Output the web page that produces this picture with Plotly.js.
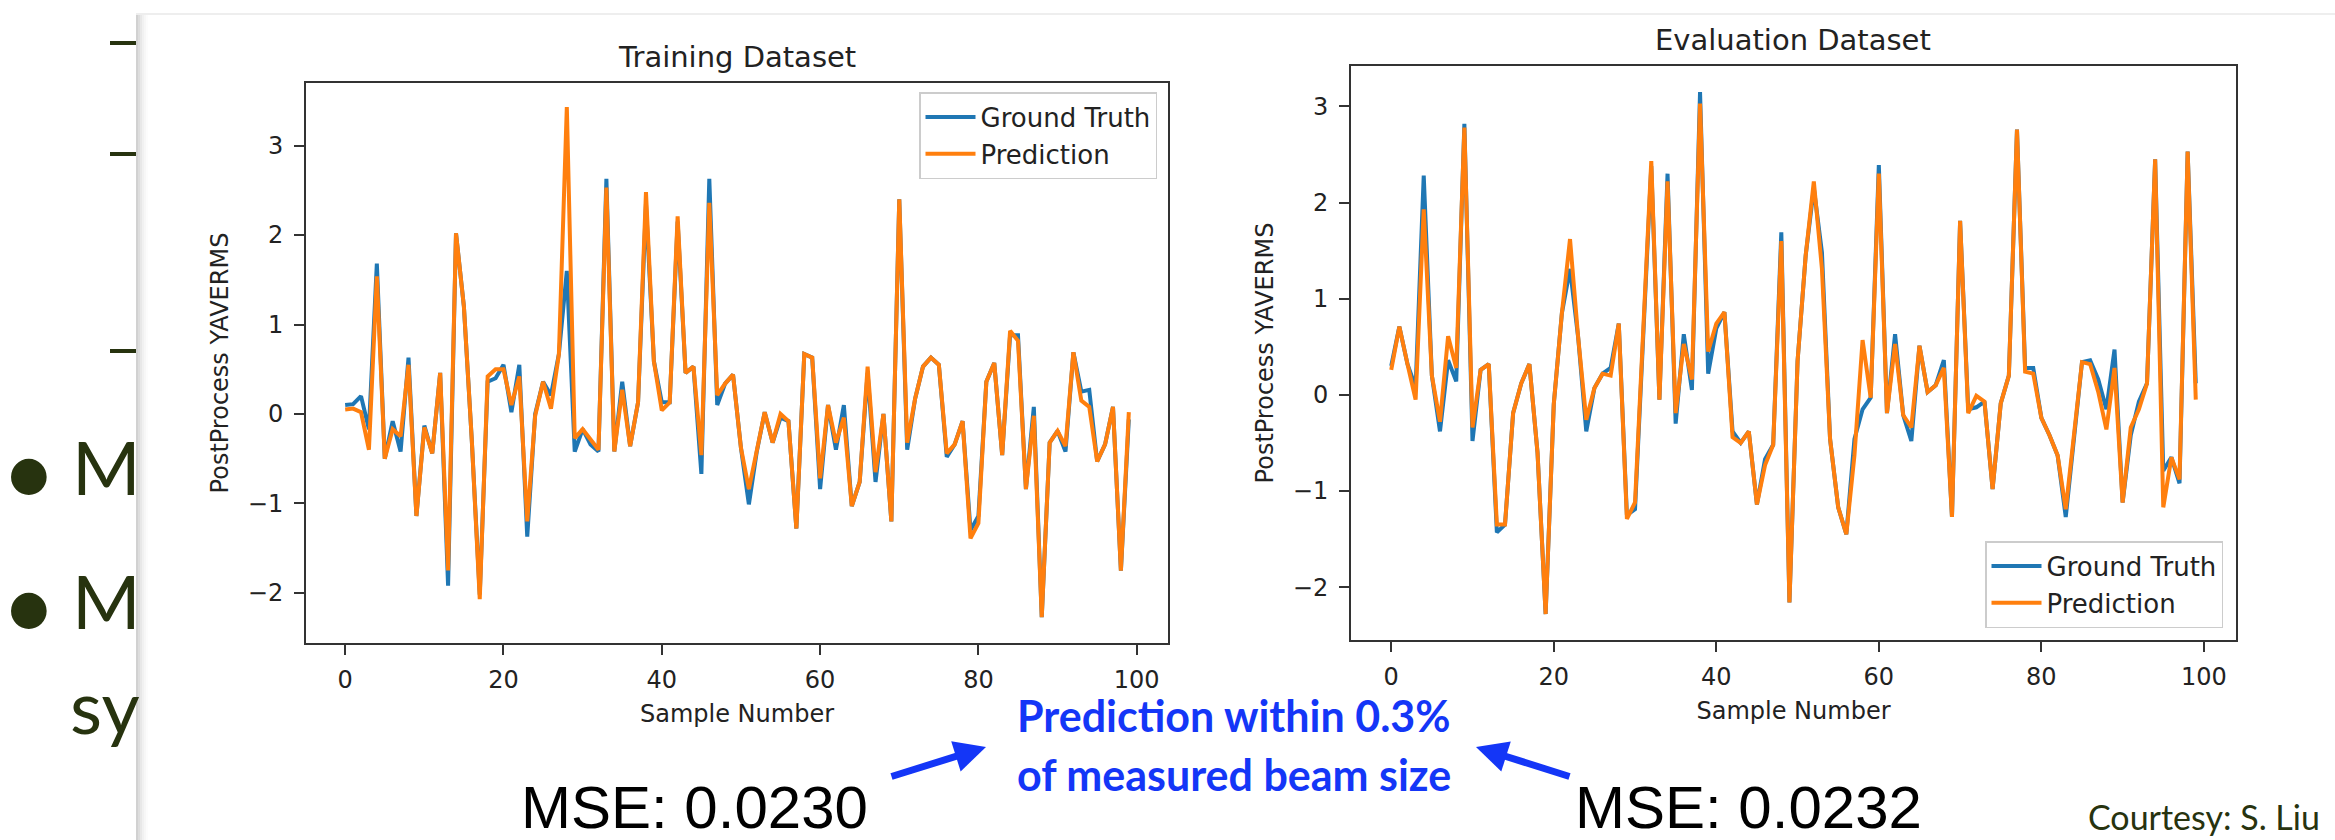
<!DOCTYPE html>
<html>
<head>
<meta charset="utf-8">
<script src="https://cdn.plot.ly/plotly-3.0.1.min.js"></script>
<style>
html,body{margin:0;padding:0;background:#ffffff;}
#chart{width:2335px;height:840px;}
</style>
</head>
<body>
<div id="chart"></div>
<script>
// ---------------- DATA ----------------
const sampleNumber = [0,1,2,3,4,5,6,7,8,9,10,11,12,13,14,15,16,17,18,19,20,21,22,23,24,25,26,27,28,29,30,31,32,33,34,35,36,37,38,39,40,41,42,43,44,45,46,47,48,49,50,51,52,53,54,55,56,57,58,59,60,61,62,63,64,65,66,67,68,69,70,71,72,73,74,75,76,77,78,79,80,81,82,83,84,85,86,87,88,89,90,91,92,93,94,95,96,97,98,99];

const trainTruth = [0.10,0.11,0.20,-0.17,1.68,-0.50,-0.08,-0.42,0.63,-1.14,
  -0.13,-0.44,0.46,-1.92,2.02,1.20,-0.30,-2.02,0.36,0.40,
  0.55,0.02,0.55,-1.37,0.00,0.36,0.21,0.67,1.60,-0.42,
  -0.17,-0.34,-0.42,2.63,-0.42,0.36,-0.36,0.13,2.35,0.59,
  0.13,0.13,2.15,0.46,0.53,-0.67,2.63,0.10,0.34,0.44,
  -0.38,-1.01,-0.42,0.02,-0.32,-0.04,-0.08,-1.28,0.67,0.63,
  -0.84,0.10,-0.40,0.10,-1.03,-0.76,0.46,-0.76,0.00,-1.20,
  2.40,-0.40,0.17,0.53,0.63,0.55,-0.48,-0.34,-0.08,-1.30,
  -1.14,0.36,0.57,-0.46,0.88,0.88,-0.84,0.08,-2.27,-0.32,
  -0.19,-0.42,0.69,0.25,0.27,-0.53,-0.34,0.08,-1.75,-0.06];

const trainPred = [0.05,0.06,0.02,-0.40,1.54,-0.50,-0.17,-0.25,0.55,-1.14,
  -0.15,-0.44,0.46,-1.75,2.02,1.20,-0.30,-2.07,0.42,0.50,
  0.50,0.10,0.42,-1.20,-0.02,0.36,0.06,0.67,3.43,-0.27,
  -0.17,-0.28,-0.40,2.53,-0.42,0.27,-0.36,0.13,2.48,0.59,
  0.04,0.13,2.21,0.46,0.53,-0.46,2.36,0.21,0.34,0.44,
  -0.38,-0.84,-0.42,0.02,-0.32,0.00,-0.08,-1.28,0.67,0.63,
  -0.72,0.10,-0.32,-0.04,-1.03,-0.76,0.53,-0.65,0.00,-1.20,
  2.40,-0.32,0.17,0.53,0.63,0.55,-0.44,-0.34,-0.08,-1.39,
  -1.22,0.36,0.57,-0.46,0.93,0.82,-0.84,-0.02,-2.27,-0.32,
  -0.19,-0.36,0.69,0.15,0.08,-0.53,-0.34,0.08,-1.75,0.02];

const evalTruth = [0.30,0.71,0.32,0.08,2.28,0.20,-0.38,0.36,0.14,2.82,
  -0.48,0.26,0.32,-1.43,-1.35,-0.19,0.12,0.32,-0.60,-2.28,
  -0.10,0.85,1.31,0.60,-0.38,0.07,0.22,0.28,0.74,-1.25,
  -1.19,0.60,2.38,-0.05,2.30,-0.30,0.63,0.05,3.15,0.22,
  0.69,0.86,-0.38,-0.50,-0.38,-1.14,-0.67,-0.52,1.69,-2.16,
  0.35,1.45,2.15,1.48,-0.46,-1.17,-1.45,-0.46,-0.15,-0.03,
  2.39,-0.19,0.63,-0.21,-0.48,0.51,0.03,0.10,0.36,-1.27,
  1.81,-0.15,-0.13,-0.07,-0.98,-0.09,0.20,2.76,0.28,0.28,
  -0.24,-0.42,-0.63,-1.27,-0.42,0.34,0.36,0.16,-0.15,0.47,
  -1.12,-0.42,-0.07,0.12,2.45,-0.79,-0.65,-0.92,2.53,0.12];

const evalPred = [0.26,0.71,0.32,-0.05,1.93,0.20,-0.28,0.61,0.28,2.78,
  -0.34,0.26,0.32,-1.35,-1.35,-0.19,0.12,0.32,-0.60,-2.28,
  -0.10,0.85,1.62,0.60,-0.26,0.07,0.22,0.20,0.74,-1.29,
  -1.12,0.60,2.43,-0.05,2.22,-0.19,0.53,0.16,3.03,0.45,
  0.74,0.86,-0.44,-0.50,-0.38,-1.14,-0.73,-0.52,1.60,-2.16,
  0.35,1.45,2.22,1.31,-0.46,-1.17,-1.45,-0.63,0.57,-0.03,
  2.30,-0.19,0.53,-0.21,-0.34,0.51,0.03,0.10,0.28,-1.27,
  1.81,-0.19,-0.01,-0.07,-0.98,-0.09,0.20,2.76,0.24,0.22,
  -0.24,-0.42,-0.63,-1.19,-0.42,0.34,0.32,0.03,-0.36,0.28,
  -1.12,-0.34,-0.15,0.12,2.45,-1.17,-0.65,-0.88,2.53,-0.05];

const seriesNames = ["Ground Truth", "Prediction"];
const chartTitles = ["Training Dataset", "Evaluation Dataset"];
const xLabel = "Sample Number";
const yLabel = "PostProcess YAVERMS";
const mseLabels = ["MSE: 0.0230", "MSE: 0.0232"];
const noteLines = ["Prediction within 0.3%", "of measured beam size"];
const credit = "Courtesy: S. Liu";

// ---------------- LAYOUT HELPERS ----------------
const W = 2335, H = 840;
const px = x => x / W;
const py = y => 1 - y / H;

const BLUE = "#1f77b4", ORANGE = "#ff7f0e";
const CF = "DejaVu Sans";
const TXT = "#222222";
const SLIDE = "#27330f";
const NOTE = "#1436f7";

const lw = 4;
const traces = [
  {x: sampleNumber, y: trainTruth, name: seriesNames[0], type: "scatter", mode: "lines",
   line: {color: BLUE, width: lw}, xaxis: "x", yaxis: "y", legend: "legend"},
  {x: sampleNumber, y: trainPred, name: seriesNames[1], type: "scatter", mode: "lines",
   line: {color: ORANGE, width: lw}, xaxis: "x", yaxis: "y", legend: "legend"},
  {x: sampleNumber, y: evalTruth, name: seriesNames[0], type: "scatter", mode: "lines",
   line: {color: BLUE, width: lw}, xaxis: "x2", yaxis: "y2", legend: "legend2"},
  {x: sampleNumber, y: evalPred, name: seriesNames[1], type: "scatter", mode: "lines",
   line: {color: ORANGE, width: lw}, xaxis: "x2", yaxis: "y2", legend: "legend2"}
];

function xAx(domain, anchor) {
  return {
    domain: domain, anchor: anchor, range: [-4.95, 103.95], tick0: 0, dtick: 20,
    ticks: "outside", ticklen: 10, tickwidth: 2, tickcolor: "#333",
    showline: true, mirror: true, linecolor: "#333", linewidth: 2,
    showgrid: false, zeroline: false, ticklabelstandoff: 4,
    tickfont: {family: CF, size: 24, color: TXT},
    title: {text: xLabel, font: {family: CF, size: 24, color: TXT}, standoff: 12}
  };
}
function yAx(domain, anchor, range) {
  return {
    domain: domain, anchor: anchor, range: range, tick0: 0, dtick: 1,
    ticks: "outside", ticklen: 10, tickwidth: 2, tickcolor: "#333",
    showline: true, mirror: true, linecolor: "#333", linewidth: 2,
    showgrid: false, zeroline: false, ticklabelstandoff: 6,
    tickfont: {family: CF, size: 24, color: TXT},
    title: {text: yLabel, font: {family: CF, size: 24, color: TXT}, standoff: 12}
  };
}

const legendBase = {
  bgcolor: "rgba(255,255,255,0.85)", bordercolor: "#cccccc", borderwidth: 1.5,
  font: {family: CF, size: 26, color: TXT}, itemwidth: 50
};

const shapes = [];
// slide dashes on the left strip
[43, 154, 351].forEach(y => shapes.push({type: "line", xref: "paper", yref: "paper",
  x0: px(110), x1: px(136), y0: py(y), y1: py(y), line: {color: SLIDE, width: 4}}));
// panel shadow
[0.30, 0.22, 0.15, 0.09, 0.05, 0.02].forEach((op, k) => shapes.push({type: "rect", xref: "paper", yref: "paper",
  x0: px(136 + 2 * k), x1: px(138 + 2 * k), y0: 0, y1: py(14),
  fillcolor: "#666", opacity: op, line: {width: 0}, layer: "below"}));
shapes.push({type: "line", xref: "paper", yref: "paper", x0: px(136), x1: 1, y0: py(14), y1: py(14),
  line: {color: "#eeeeee", width: 2}, layer: "below"});

const annotations = [
  // subplot titles
  {text: chartTitles[0], xref: "paper", yref: "paper", x: px(737), y: py(57), xanchor: "center", yanchor: "middle",
   showarrow: false, font: {family: CF, size: 29, color: TXT}},
  {text: chartTitles[1], xref: "paper", yref: "paper", x: px(1793), y: py(40), xanchor: "center", yanchor: "middle",
   showarrow: false, font: {family: CF, size: 29, color: TXT}},
  // slide bullets (partly hidden behind the figure panel)
  {text: "•", xref: "paper", yref: "paper", x: px(29), y: py(468), xanchor: "center", yanchor: "middle",
   showarrow: false, font: {family: "Lato", size: 96, color: SLIDE}},
  {text: "M", xref: "paper", yref: "paper", x: px(70), y: py(466), xanchor: "left", yanchor: "middle",
   showarrow: false, font: {family: "Lato", size: 74, color: SLIDE}},
  {text: "•", xref: "paper", yref: "paper", x: px(29), y: py(602), xanchor: "center", yanchor: "middle",
   showarrow: false, font: {family: "Lato", size: 96, color: SLIDE}},
  {text: "M", xref: "paper", yref: "paper", x: px(70), y: py(600), xanchor: "left", yanchor: "middle",
   showarrow: false, font: {family: "Lato", size: 74, color: SLIDE}},
  {text: "sy", xref: "paper", yref: "paper", x: px(68), y: py(705), xanchor: "left", yanchor: "middle",
   showarrow: false, font: {family: "Lato", size: 74, color: SLIDE}},
  // MSE labels
  {text: mseLabels[0], xref: "paper", yref: "paper", x: px(694), y: py(807), xanchor: "center", yanchor: "middle",
   showarrow: false, font: {family: "Liberation Sans", size: 60, color: "#000000"}},
  {text: mseLabels[1], xref: "paper", yref: "paper", x: px(1748), y: py(807), xanchor: "center", yanchor: "middle",
   showarrow: false, font: {family: "Liberation Sans", size: 60, color: "#000000"}},
  // blue note
  {text: "<b>" + noteLines[0] + "</b>", xref: "paper", yref: "paper", x: px(1234), y: py(715), xanchor: "center", yanchor: "middle",
   showarrow: false, font: {family: "Lato", size: 43, color: NOTE}},
  {text: "<b>" + noteLines[1] + "</b>", xref: "paper", yref: "paper", x: px(1234), y: py(774), xanchor: "center", yanchor: "middle",
   showarrow: false, font: {family: "Lato", size: 43, color: NOTE}},
  // arrows
  {text: "", xref: "paper", yref: "paper", x: px(986), y: py(747), ax: -96, ay: 30,
   showarrow: true, arrowhead: 2, arrowsize: 0.9, arrowwidth: 7, arrowcolor: NOTE},
  {text: "", xref: "paper", yref: "paper", x: px(1476), y: py(747), ax: 95, ay: 30,
   showarrow: true, arrowhead: 2, arrowsize: 0.9, arrowwidth: 7, arrowcolor: NOTE},
  // credit
  {text: credit, xref: "paper", yref: "paper", x: px(2204), y: py(816), xanchor: "center", yanchor: "middle",
   showarrow: false, font: {family: "Lato", size: 34, color: SLIDE}}
];

const layout = {
  width: W, height: H,
  margin: {l: 0, r: 0, t: 0, b: 0, pad: 0},
  paper_bgcolor: "#ffffff", plot_bgcolor: "#ffffff",
  showlegend: true,
  xaxis: xAx([px(306), px(1168)], "y"),
  yaxis: yAx([py(643), py(83)], "x", [-2.56, 3.70]),
  xaxis2: xAx([px(1351), px(2236)], "y2"),
  yaxis2: yAx([py(640), py(66)], "x2", [-2.55, 3.42]),
  legend: Object.assign({x: px(1157), xanchor: "right", y: py(92), yanchor: "top"}, legendBase),
  legend2: Object.assign({x: px(2223), xanchor: "right", y: py(628), yanchor: "bottom"}, legendBase),
  shapes: shapes,
  annotations: annotations
};

Plotly.newPlot("chart", traces, layout, {displayModeBar: false, staticPlot: true});
</script>
</body>
</html>
